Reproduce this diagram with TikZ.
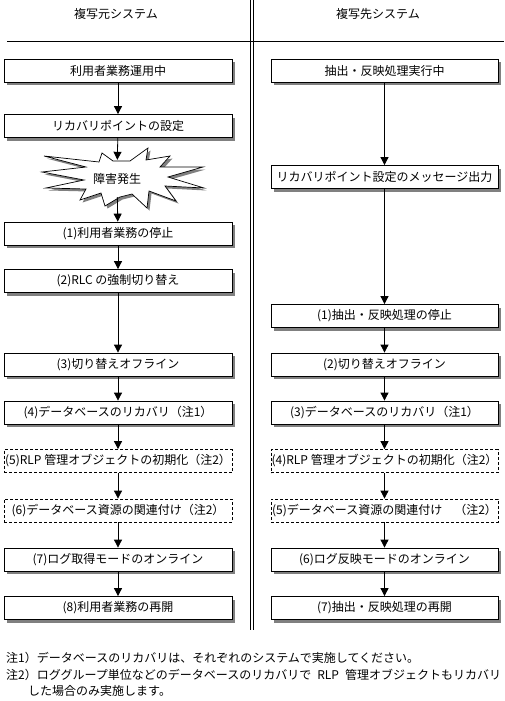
\documentclass[tikz,border=0pt]{standalone}
\usepackage{fontspec}
\setmainfont{Noto Sans CJK JP}
\usetikzlibrary{arrows.meta,shadows}
\begin{document}
\begin{tikzpicture}[x=1pt,y=-1pt,
  txt/.style={font=\fontsize{12}{14}\selectfont, inner sep=0pt},
  basebox/.style={txt, draw, line width=0.8pt, fill=white, minimum height=23pt},
  shad/.style={drop shadow={shadow xshift=3pt, shadow yshift=-3pt, fill=black!50, opacity=1}},
  lbox/.style={basebox, shad, minimum width=228pt},
  rbox/.style={basebox, shad, minimum width=227pt},
  ldash/.style={basebox, dash pattern=on 3pt off 2pt, minimum width=228pt},
  rdash/.style={basebox, dash pattern=on 3pt off 2pt, minimum width=227pt},
  arr/.style={line width=0.8pt, -{Triangle[width=8pt,length=8pt]}},
  rule/.style={line width=0.8pt}
]
\useasboundingbox (0,0) rectangle (504,701);
% header
\node[txt] (hl) at (116,14) {複写元システム};
\node[txt] (hr) at (378,14) {複写先システム};
\draw[rule] (7,41.5) -- (504,41.5);
\draw[rule] (250.5,0) -- (250.5,630);
\draw[rule] (253,0) -- (253,630);
% left column
\node[lbox] (l0) at (118,70.5) {利用者業務運用中};
\node[lbox] (l1) at (118,126) {リカバリポイントの設定};
% starburst
\draw[fill=black!50, draw=none, shift={(2.5,2.5)}]
  (44,156) -- (99,162) -- (102,153) -- (113,161) -- (130,161) -- (148,148) -- (146,160)
  -- (170,156) -- (160,167) -- (203,167) -- (168,177) -- (204,188) -- (165,186)
  -- (176,201) -- (149,191) -- (147,208) -- (132,194) -- (120,197) -- (105,206)
  -- (101,193) -- (80,200) -- (86,189) -- (46,188) -- (84,180) -- (42,172) -- (86,167) -- cycle;
\draw[fill=white, line width=0.7pt]
  (44,156) -- (99,162) -- (102,153) -- (113,161) -- (130,161) -- (148,148) -- (146,160)
  -- (170,156) -- (160,167) -- (203,167) -- (168,177) -- (204,188) -- (165,186)
  -- (176,201) -- (149,191) -- (147,208) -- (132,194) -- (120,197) -- (105,206)
  -- (101,193) -- (80,200) -- (86,189) -- (46,188) -- (84,180) -- (42,172) -- (86,167) -- cycle;
\node[txt, minimum height=37pt, minimum width=60pt] (star) at (117,178.5) {障害発生};
\node[lbox] (l2) at (118,233.5) {(1)利用者業務の停止};
\node[lbox] (l3) at (118,281) {(2)RLC の強制切り替え};
\node[lbox] (l4) at (118,364.5) {(3)切り替えオフライン};
\node[lbox] (l5) at (118,412.5) {(4)データベースのリカバリ（注1）};
\node[ldash] (l6) at (118,461) {(5)RLP 管理オブジェクトの初期化（注2）};
\node[ldash] (l7) at (118,510.5) {(6)データベース資源の関連付け（注2）};
\node[lbox] (l8) at (118,559.5) {(7)ログ取得モードのオンライン};
\node[lbox] (l9) at (118,608) {(8)利用者業務の再開};
% right column
\node[rbox] (r0) at (384.5,70.5) {抽出・反映処理実行中};
\node[rbox] (r1) at (384.5,177) {リカバリポイント設定のメッセージ出力};
\node[rbox] (r2) at (384.5,316) {(1)抽出・反映処理の停止};
\node[rbox] (r3) at (384.5,364.5) {(2)切り替えオフライン};
\node[rbox] (r4) at (384.5,412.5) {(3)データベースのリカバリ（注1）};
\node[rdash] (r5) at (384.5,461) {(4)RLP 管理オブジェクトの初期化（注2）};
\node[rdash] (r6) at (384.5,510.5) {(5)データベース資源の関連付け　（注2）};
\node[rbox] (r7) at (384.5,559.5) {(6)ログ反映モードのオンライン};
\node[rbox] (r8) at (384.5,608) {(7)抽出・反映処理の再開};
% arrows left
\draw[arr] (l0) -- (l1);
\draw[arr] (l1) -- (star);
\draw[arr] (star) -- (l2);
\draw[arr] (l2) -- (l3);
\draw[arr] (l3) -- (l4);
\draw[arr] (l4) -- (l5);
\draw[arr] (l5) -- (l6);
\draw[arr] (l6) -- (l7);
\draw[arr] (l7) -- (l8);
\draw[arr] (l8) -- (l9);
% arrows right
\draw[arr] (r0) -- (r1);
\draw[arr] (r1) -- (r2);
\draw[arr] (r2) -- (r3);
\draw[arr] (r3) -- (r4);
\draw[arr] (r4) -- (r5);
\draw[arr] (r5) -- (r6);
\draw[arr] (r6) -- (r7);
\draw[arr] (r7) -- (r8);
% notes
\node[txt, anchor=west] (n1) at (6,658) {注1）データベースのリカバリは、それぞれのシステムで実施してください。};
\node[txt, anchor=west] (n2) at (6,675) {注2）ロググループ単位などのデータベースのリカバリで\hspace{0.5em}RLP\hspace{0.5em}管理オブジェクトもリカバリ};
\node[txt, anchor=west] (n3) at (28,690.5) {した場合のみ実施します。};
\end{tikzpicture}
\end{document}
